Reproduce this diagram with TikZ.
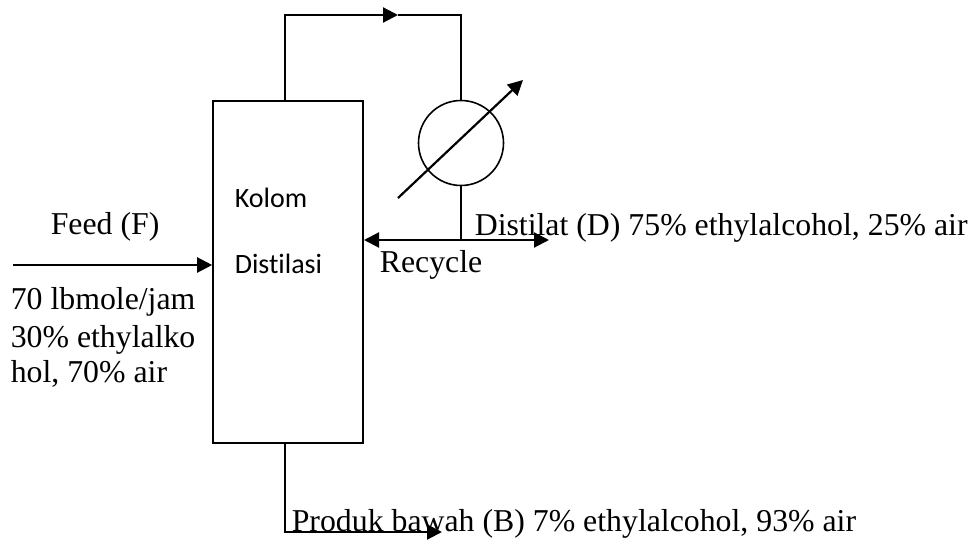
\documentclass[tikz,border=0pt]{standalone}
\usepackage{fontspec}
\setmainfont{Liberation Serif}
\newfontfamily\labelfont[Ligatures=NoCommon]{Carlito}
\usetikzlibrary{arrows.meta,positioning}

\begin{document}
\begin{tikzpicture}[x=1pt,y=-1pt,>={Triangle[length=15pt,width=15pt]},line width=1.6pt,font=\fontsize{31.8}{36}\selectfont]
\tikzset{txt/.style={inner sep=0pt,anchor=base west},
  kolomtxt/.style={txt,font=\labelfont\fontsize{28}{32}\selectfont},
  flow/.style={line width=2.2pt},
  column/.style={draw,minimum width=150pt,minimum height=342pt,inner sep=0pt},
  condenser/.style={draw,circle,minimum size=85pt,inner sep=0pt}}
\useasboundingbox (0,0) rectangle (978,540);

\node[column]    (kolom) at (288,272) {};
\node[condenser] (kond)  at (461,143) {};

\coordinate (top1) at (285,15);
\coordinate (top2) at (461,15);
\coordinate (topm) at (398,15);
\coordinate (mid) at (461,240);
\coordinate (feed) at (13,265);
\coordinate (bot) at (285,532);
\coordinate (prod) at (442,532);
\coordinate (dist) at (549,240);
\coordinate (ka) at (398,198);
\coordinate (kb) at (523,80);
\coordinate (rec) at (364,240);

\draw[->,flow] (top1 |- kolom.north) -- (top1) -- (topm);
\draw (topm) -- (top2) -- (kond.north);
\draw (kond.south) -- (mid);
\draw[<->,flow] (rec) -- (dist);
\draw[->,flow] (ka) -- (kb);
\draw[->,flow] (feed) -- (kolom.west |- feed);
\draw[->,flow] (bot |- kolom.south) -- (bot) -- (prod);

\node[txt] (t1) at (50,235) {Feed (F)};
\node[txt] (t2) at (10,310) {70 lbmole/jam};
\node[txt] (t3) at (10,347) {30\% ethylalko};
\node[txt] (t4) at (10,382) {hol, 70\% air};
\node[txt] (t5) at (474,236) {Distilat (D) 75\% ethylalcohol, 25\% air};
\node[txt] (t6) at (379,273) {Recycle};
\node[txt] (t7) at (291,531) {Produk bawah (B) 7\% ethylalcohol, 93\% air};
\node[kolomtxt] (t8) at (234,208) {Kolom};
\node[kolomtxt] (t9) at (234,274) {Distilasi};
\end{tikzpicture}
\end{document}
